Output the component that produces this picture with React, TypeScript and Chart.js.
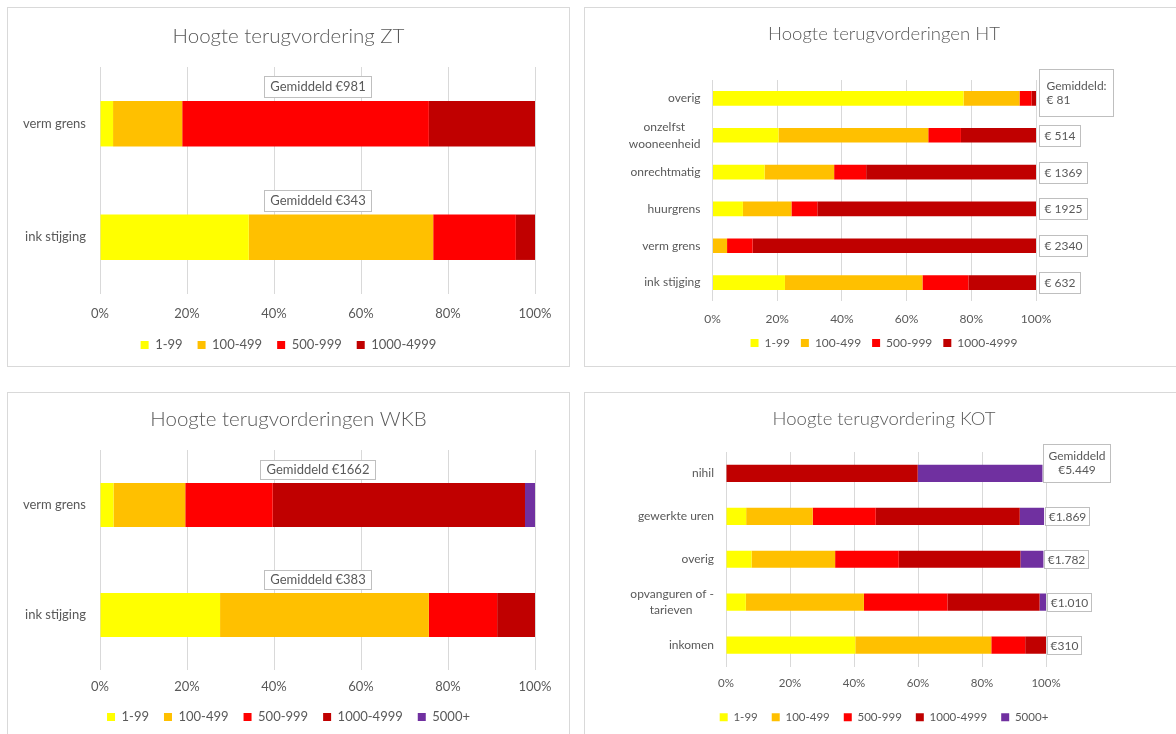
import React, { useEffect, useRef } from 'react';
import { Chart, registerables } from 'chart.js';

Chart.register(...registerables);

const FONT = 'Lato, "Open Sans", sans-serif';
const TEXT = '#595959';
const GRID = '#d9d9d9';

// ---- shared legend / colours ----
const seriesNames = ['1-99', '100-499', '500-999', '1000-4999', '5000+'];
const seriesColors = ['#FFFF00', '#FFC000', '#FF0000', '#C00000', '#7030A0'];

// ---- ZT ----
const ztCategories = ['verm grens', 'ink stijging'];
const zt1to99 = [3.0, 34.2];
const zt100to499 = [15.9, 42.4];
const zt500to999 = [56.7, 19.0];
const zt1000to4999 = [24.4, 4.4];
const ztAverages = [['Gemiddeld €981'], ['Gemiddeld €343']];

// ---- HT ----
const htCategories: (string | string[])[] = ['overig', ['onzelfst', 'wooneenheid'], 'onrechtmatig', 'huurgrens', 'verm grens', 'ink stijging'];
const ht1to99 = [77.6, 20.4, 16.1, 9.4, 0, 22.4];
const ht100to499 = [17.3, 46.3, 21.5, 15.0, 4.5, 42.5];
const ht500to999 = [3.7, 10.1, 9.9, 8.0, 7.9, 14.2];
const ht1000to4999 = [1.4, 23.2, 52.5, 67.6, 87.6, 20.9];
const htAverages = [['Gemiddeld:', '€ 81'], ['€ 514'], ['€ 1369'], ['€ 1925'], ['€ 2340'], ['€ 632']];

// ---- WKB ----
const wkbCategories = ['verm grens', 'ink stijging'];
const wkb1to99 = [3.1, 27.6];
const wkb100to499 = [16.5, 48.0];
const wkb500to999 = [20.1, 15.7];
const wkb1000to4999 = [58.0, 8.7];
const wkb5000plus = [2.3, 0];
const wkbAverages = [['Gemiddeld €1662'], ['Gemiddeld €383']];

// ---- KOT ----
const kotCategories: (string | string[])[] = ['nihil', 'gewerkte uren', 'overig', ['opvanguren of -', 'tarieven'], 'inkomen'];
const kot1to99 = [0, 6.3, 8.0, 6.2, 40.4];
const kot100to499 = [0, 20.8, 26.1, 36.9, 42.5];
const kot500to999 = [0, 19.7, 19.9, 26.1, 10.6];
const kot1000to4999 = [59.9, 45.0, 38.0, 28.8, 6.5];
const kot5000plus = [39.0, 7.6, 7.2, 2.0, 0];
const kotAverages = [['Gemiddeld', '€5.449'], ['€1.869'], ['€1.782'], ['€1.010'], ['€310']];

const xTickStep = 20;

function padCentered(label: string | string[], size: number): string | string[] {
  if (!Array.isArray(label)) return label;
  const c = document.createElement('canvas').getContext('2d')!;
  c.font = `${size}px ${FONT}`;
  const ws = label.map((l) => c.measureText(l).width);
  const max = Math.max(...ws);
  const sp = c.measureText('\u00a0').width || 3;
  return label.map((l, i) => l + '\u00a0'.repeat(Math.round((max - ws[i]) / 2 / sp)));
}

const notesPlugin = {
  id: 'notes',
  afterDatasetsDraw(chart: any, _a: any, o: any) {
    if (!o || !o.items) return;
    const { ctx, chartArea } = chart;
    const xs = chart.scales.x;
    ctx.save();
    ctx.font = `${o.size}px ${FONT}`;
    ctx.textBaseline = 'middle';
    const lh = o.size * 1.2;
    o.items.forEach((lines: string[], i: number) => {
      const el = chart.getDatasetMeta(0).data[i];
      const p = el.getProps(['y', 'height'], true);
      const multi = lines.length > 1;
      const padX = multi ? o.mPadX : o.padX;
      const padY = multi ? o.mPadY : o.padY;
      const tw = Math.max(...lines.map((l) => ctx.measureText(l).width));
      const bw = Math.round(tw + 2 * padX);
      const bh = Math.round(lines.length * lh + 2 * padY);
      let bx: number;
      let by: number;
      if (o.mode === 'above') {
        bx = (chartArea.left + chartArea.right) / 2 - bw / 2;
        by = p.y - p.height / 2 - o.gap - bh;
      } else {
        let total = 0;
        chart.data.datasets.forEach((d: any) => (total += d.data[i] || 0));
        bx = xs.getPixelForValue(total) + o.gap;
        by = p.y - bh / 2 + (multi ? o.mOffset : 0);
      }
      bx = Math.round(bx) + 0.5;
      by = Math.round(by) + 0.5;
      ctx.fillStyle = '#ffffff';
      ctx.fillRect(bx, by, bw, bh);
      ctx.strokeStyle = '#bfbfbf';
      ctx.lineWidth = 1;
      ctx.strokeRect(bx, by, bw, bh);
      ctx.fillStyle = TEXT;
      ctx.textAlign = o.align === 'center' ? 'center' : 'left';
      lines.forEach((l, k) => {
        const tx = o.align === 'center' ? bx + bw / 2 : bx + padX;
        ctx.fillText(l, tx, by + padY + lh * k + lh / 2);
      });
    });
    ctx.restore();
  },
};

type PanelCfg = {
  left: number; top: number; w: number; h: number;
  title: string; titleSize: number; titlePadTop: number; titlePadBottom: number;
  categories: (string | string[])[]; series: number[][];
  fontSize: number; tickSize: number; yWidth: number; yTickPad: number;
  padRight: number; padBottom: number; xHeight: number; xTickPad: number; legendPad: number;
  notes: any;
};

function buildConfig(c: PanelCfg): any {
  return {
    type: 'bar',
    data: {
      labels: c.categories.map((l) => padCentered(l, c.fontSize)),
      datasets: c.series.map((d, k) => ({
        label: seriesNames[k],
        data: d,
        backgroundColor: seriesColors[k],
        borderWidth: 0,
        barPercentage: 0.4,
        categoryPercentage: 1,
        xAxisID: 'x',
        yAxisID: 'y',
      })),
    },
    options: {
      indexAxis: 'y',
      responsive: false,
      maintainAspectRatio: false,
      animation: false,
      layout: { padding: { left: 0, right: 0, top: 0, bottom: c.padBottom } },
      scales: {
        x: {
          stacked: true,
          min: 0,
          max: 100,
          ticks: {
            stepSize: xTickStep,
            callback: (v: any) => v + '%',
            color: TEXT,
            font: { family: FONT, size: c.tickSize },
            padding: c.xTickPad,
            maxRotation: 0,
          },
          grid: { color: GRID, drawTicks: false, lineWidth: 1 },
          border: { display: false },
          afterFit: (s: any) => { s.height = c.xHeight; },
        },
        y: {
          stacked: true,
          position: 'left',
          ticks: {
            color: TEXT,
            font: { family: FONT, size: c.fontSize, lineHeight: 1.4 },
            padding: c.yTickPad,
            autoSkip: false,
          },
          grid: { display: false, drawTicks: false },
          border: { display: false },
          afterFit: (s: any) => { s.width = c.yWidth; },
        },
        yRight: {
          axis: 'y',
          type: 'category',
          position: 'right',
          ticks: { display: false },
          grid: { display: false, drawTicks: false },
          border: { display: false },
          afterFit: (s: any) => { s.width = c.padRight; },
        },
      },
      plugins: {
        title: {
          display: true,
          text: c.title,
          color: TEXT,
          font: { family: FONT, size: c.titleSize, weight: '300' },
          padding: { top: c.titlePadTop, bottom: c.titlePadBottom },
        },
        legend: {
          position: 'bottom',
          labels: {
            boxWidth: 8,
            boxHeight: 8,
            color: TEXT,
            font: { family: FONT, size: c.tickSize },
            padding: c.legendPad,
          },
        },
        tooltip: { enabled: false },
        notes: c.notes,
      },
    },
    plugins: [notesPlugin],
  };
}

const panels: PanelCfg[] = [
  {
    left: 7, top: 7, w: 563, h: 360,
    title: 'Hoogte terugvordering ZT', titleSize: 20.5, titlePadTop: 15.7, titlePadBottom: 18.7,
    categories: ztCategories, series: [zt1to99, zt100to499, zt500to999, zt1000to4999],
    fontSize: 13, tickSize: 13, yWidth: 92, yTickPad: 14,
    padRight: 34, padBottom: 4.5, xHeight: 29.5, xTickPad: 11.8, legendPad: 15,
    notes: { items: ztAverages, mode: 'above', size: 13, padX: 6, padY: 2.5, mPadX: 6, mPadY: 2.5, gap: 4, mOffset: 0, align: 'center' },
  },
  {
    left: 584, top: 7, w: 600, h: 360,
    title: 'Hoogte terugvorderingen HT', titleSize: 18.5, titlePadTop: 14.9, titlePadBottom: 34.9,
    categories: htCategories, series: [ht1to99, ht100to499, ht500to999, ht1000to4999],
    fontSize: 12, tickSize: 12, yWidth: 127.5, yTickPad: 12,
    padRight: 147, padBottom: 7, xHeight: 25, xTickPad: 10.8, legendPad: 11,
    notes: { items: htAverages, mode: 'right', size: 12, padX: 5, padY: 3.5, mPadX: 7, mPadY: 9, gap: 3, mOffset: -6, align: 'left' },
  },
  {
    left: 7, top: 392, w: 563, h: 360,
    title: 'Hoogte terugvorderingen WKB', titleSize: 20.5, titlePadTop: 13.7, titlePadBottom: 18.7,
    categories: wkbCategories, series: [wkb1to99, wkb100to499, wkb500to999, wkb1000to4999, wkb5000plus],
    fontSize: 13, tickSize: 13, yWidth: 92, yTickPad: 14,
    padRight: 34, padBottom: 17.5, xHeight: 25.5, xTickPad: 9.2, legendPad: 15,
    notes: { items: wkbAverages, mode: 'above', size: 13, padX: 6, padY: 1.5, mPadX: 6, mPadY: 1.5, gap: 4, mOffset: 0, align: 'center' },
  },
  {
    left: 584, top: 392, w: 600, h: 360,
    title: 'Hoogte terugvordering KOT', titleSize: 18.5, titlePadTop: 14.9, titlePadBottom: 21.9,
    categories: kotCategories, series: [kot1to99, kot100to499, kot500to999, kot1000to4999, kot5000plus],
    fontSize: 12, tickSize: 11.5, yWidth: 141, yTickPad: 12,
    padRight: 137, padBottom: 18, xHeight: 31, xTickPad: 9.8, legendPad: 14,
    notes: { items: kotAverages, mode: 'right', size: 12, padX: 3, padY: 2, mPadX: 5, mPadY: 4.5, gap: 1, mOffset: -10, align: 'center' },
  },
];

function Panel({ cfg }: { cfg: PanelCfg }) {
  const ref = useRef<HTMLCanvasElement>(null);
  useEffect(() => {
    const chart = new Chart(ref.current!, buildConfig(cfg));
    return () => chart.destroy();
  }, [cfg]);
  return (
    <div
      style={{
        position: 'absolute',
        left: cfg.left,
        top: cfg.top,
        width: cfg.w,
        height: cfg.h,
        border: '1px solid #d9d9d9',
        boxSizing: 'border-box',
        background: '#ffffff',
      }}
    >
      <canvas ref={ref} width={cfg.w - 2} height={cfg.h - 2} style={{ display: 'block' }} />
    </div>
  );
}

export default function App() {
  return (
    <div
      style={{
        position: 'absolute',
        left: 0,
        top: 0,
        width: 1176,
        height: 734,
        overflow: 'hidden',
        background: '#ffffff',
      }}
    >
      {panels.map((p, i) => (
        <Panel key={i} cfg={p} />
      ))}
    </div>
  );
}
